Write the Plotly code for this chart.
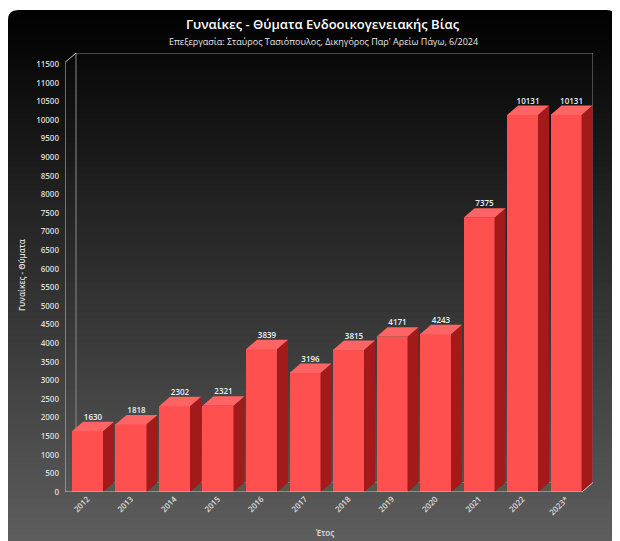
import plotly.graph_objects as go

# ---- data ----
years = ["2012", "2013", "2014", "2015", "2016", "2017", "2018", "2019", "2020", "2021", "2022", "2023*"]
victims = [1630, 1818, 2302, 2321, 3839, 3196, 3815, 4171, 4243, 7375, 10131, 10131]
ytick_vals = list(range(0, 11501, 500))

title_text = "Γυναίκες - Θύματα Ενδοοικογενειακής Βίας"
subtitle_text = "Επεξεργασία: Σταύρος Τασιόπουλος, Δικηγόρος Παρ' Αρείω Πάγω, 6/2024"
ytitle = "Γυναίκες - Θύματα"
xtitle = "Έτος"

# ---- geometry / style (figure pixels; page shows figure offset by 8px) ----
W, H = 620, 541
ML, MR, MT, MB = 57, 35, 45, 57
PW, PH = W - ML - MR, H - MT - MB
XMIN, XMAX = -0.517, 11.62
YMIN, YMAX = 0, 11800
BW = 0.713          # front face width (category units)
DX = 0.253          # depth offset x (category units)
DY = 255            # depth offset y (data units)

FRONT = "#ff5050"
SIDE = "#a21a1a"
TOP = "#ff6464"

def px2paper_x(px):
    return (px - ML) / PW

def py2paper_y(py):
    return (H - MB - py) / PH

fig = go.Figure()

xs = list(range(len(years)))
fig.add_trace(go.Bar(
    x=xs, y=victims, width=BW,
    marker=dict(color=FRONT, line=dict(width=0)),
    hoverinfo="skip", showlegend=False,
))

sx, sy, tx, ty = [], [], [], []
for i, v in zip(xs, victims):
    xl, xr = i - BW / 2, i + BW / 2
    sx += [xr, xr + DX, xr + DX, xr, xr, None]
    sy += [0, DY, v + DY, v, 0, None]
    tx += [xl, xr, xr + DX, xl + DX, xl, None]
    ty += [v, v, v + DY, v + DY, v, None]
fig.add_trace(go.Scatter(x=sx, y=sy, mode="lines", fill="toself", fillcolor=SIDE,
                         line=dict(width=0, color=SIDE), hoverinfo="skip", showlegend=False))
fig.add_trace(go.Scatter(x=tx, y=ty, mode="lines", fill="toself", fillcolor=TOP,
                         line=dict(width=0, color=TOP), hoverinfo="skip", showlegend=False))

fig.add_trace(go.Scatter(
    x=[i + DX / 2 for i in xs], y=[v + DY for v in victims],
    mode="text", text=[str(v) for v in victims], textposition="top center",
    textfont=dict(family="Open Sans", size=8, color="#e8f0f8", weight=600),
    hoverinfo="skip", showlegend=False,
))

shapes = []
# gradient background panel: each rect runs from its top down to the bottom, later ones overlay
x0p, x1p = px2paper_x(0), px2paper_x(608)
top_px, bot_px = 2, 545
n = 90
for k in range(n):
    ya = top_px + (bot_px - top_px) * k / n
    t = k / (n - 1)
    c = int(round(1 + t * 94))
    col = f"rgb({c},{c},{c})"
    shapes.append(dict(type="rect", xref="paper", yref="paper", layer="below",
                       x0=x0p, x1=x1p, y0=py2paper_y(bot_px), y1=py2paper_y(ya),
                       fillcolor=col, line=dict(width=0)))
# rounded top corners (white masks)
r = 10
for cx, sgn in ((0, 1), (608, -1)):
    p = (f"M {px2paper_x(cx)},{py2paper_y(top_px)} "
         f"L {px2paper_x(cx + sgn*r)},{py2paper_y(top_px)} "
         f"Q {px2paper_x(cx)},{py2paper_y(top_px)} {px2paper_x(cx)},{py2paper_y(top_px + r)} Z")
    shapes.append(dict(type="path", xref="paper", yref="paper", layer="below",
                       path=p, fillcolor="white", line=dict(width=0)))

def seg(x0, y0, x1, y1, color="#c8c8c8", w=1):
    shapes.append(dict(type="line", xref="x", yref="y", layer="above",
                       x0=x0, y0=y0, x1=x1, y1=y1, line=dict(color=color, width=w)))

# back wall
shapes.append(dict(type="rect", xref="x", yref="y", layer="below",
                   x0=XMIN + DX, y0=DY, x1=XMAX, y1=YMAX,
                   line=dict(color="#8a8a8a", width=1), fillcolor="rgba(0,0,0,0)"))
# floor
shapes.append(dict(type="path", xref="x", yref="y", layer="below",
                   path=f"M {XMIN},{0} L {XMAX-DX},{0} L {XMAX},{DY} L {XMIN+DX},{DY} Z",
                   fillcolor="rgba(90,90,70,0.6)", line=dict(width=0)))
seg(XMIN, 0, XMIN, YMAX - DY)
seg(XMIN, YMAX - DY, XMIN + DX, YMAX)
seg(XMIN, 0, XMAX - DX, 0)
seg(XMAX - DX, 0, XMAX, DY)

annotations = [
    dict(text=title_text, xref="paper", yref="paper", x=px2paper_x(315), y=py2paper_y(16),
         showarrow=False, xanchor="center", yanchor="middle",
         font=dict(family="Open Sans", size=13, color="white", weight=600)),
    dict(text=subtitle_text, xref="paper", yref="paper", x=px2paper_x(315), y=py2paper_y(33),
         showarrow=False, xanchor="center", yanchor="middle",
         font=dict(family="Open Sans", size=9, color="#e8e8e8")),
    dict(text=ytitle, xref="paper", yref="paper", x=px2paper_x(13), y=py2paper_y(267),
         showarrow=False, textangle=-90, xanchor="center", yanchor="middle",
         font=dict(family="Open Sans", size=8, color="#e0e0e0", weight=600)),
    dict(text=xtitle, xref="paper", yref="paper", x=px2paper_x(317), y=py2paper_y(524),
         showarrow=False, xanchor="center", yanchor="middle",
         font=dict(family="Open Sans", size=8, color="#e0e0e0", weight=600)),
]

fig.update_layout(
    width=W, height=H,
    margin=dict(l=ML, r=MR, t=MT, b=MB, pad=0),
    paper_bgcolor="white", plot_bgcolor="rgba(0,0,0,0)",
    shapes=shapes, annotations=annotations,
    showlegend=False, bargap=0,
    xaxis=dict(range=[XMIN, XMAX], tickmode="array", tickvals=xs, ticktext=years,
               tickangle=-45, showgrid=False, zeroline=False, showline=False,
               ticks="", tickfont=dict(family="Open Sans", size=8, color="#dcdcdc", weight=600),
               fixedrange=True),
    yaxis=dict(range=[YMIN, YMAX], tickmode="array", tickvals=ytick_vals,
               ticktext=[str(v) for v in ytick_vals],
               showgrid=False, zeroline=False, showline=False, ticks="",
               ticklabelstandoff=5,
               tickfont=dict(family="Open Sans", size=8, color="#dcdcdc", weight=600),
               fixedrange=True),
)

fig.write_html("out.html")
